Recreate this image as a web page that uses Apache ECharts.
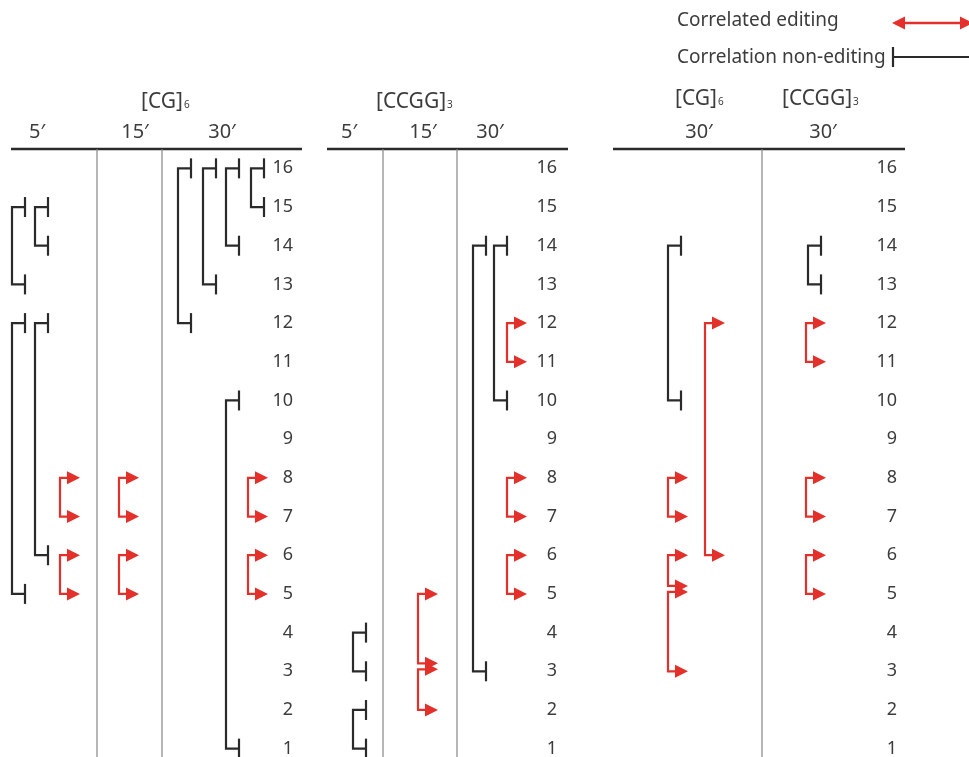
<!DOCTYPE html>
<html><head><meta charset="utf-8">
<script src="https://cdn.jsdelivr.net/npm/echarts@6/dist/echarts.min.js"></script>
<style>html,body{margin:0;padding:0;background:#fff}#c{width:969px;height:757px}</style>
</head><body><div id="c"></div>
<script>
// ================= DATA =================
const rowLabels = ['1','2','3','4','5','6','7','8','9','10','11','12','13','14','15','16'];
const panelTitles = ['[CG]6', '[CCGG]3'];
const timeLabels = ['5′', '15′', '30′'];
const legendLabels = ['Correlated editing', 'Correlation non-editing'];

// Correlation non-editing brackets: [upper position, lower position, nesting level]
const cg6_5min_nonEditing   = [[15,13,0],[15,14,1],[12,5,0],[12,6,1]];
const cg6_15min_nonEditing  = [];
const cg6_30min_nonEditing  = [[16,12,0],[16,13,1],[16,14,2],[16,15,3],[10,1,2]];
const ccgg3_5min_nonEditing = [[4,3,0],[2,1,0]];
const ccgg3_15min_nonEditing = [];
const ccgg3_30min_nonEditing = [[14,3,0],[14,10,1]];
const cmpCg6_30min_nonEditing   = [[14,10,0]];
const cmpCcgg3_30min_nonEditing = [[14,13,0]];

// Correlated editing brackets: [upper position, lower position, nesting level]
const cg6_5min_editing   = [[8,7,0],[6,5,0]];
const cg6_15min_editing  = [[8,7,0],[6,5,0]];
const cg6_30min_editing  = [[8,7,0],[6,5,0]];
const ccgg3_5min_editing = [];
const ccgg3_15min_editing = [[5,3,0],[3,2,0]];
const ccgg3_30min_editing = [[12,11,0],[8,7,0],[6,5,0]];
const cmpCg6_30min_editing   = [[12,6,1],[8,7,0],[6,5,0],[5,3,0]];
const cmpCcgg3_30min_editing = [[12,11,0],[8,7,0],[6,5,0]];

// ================= LAYOUT =================
const FONT = "'Noto Sans', 'DejaVu Sans', sans-serif";
const TXT = '#3c3c3c';
const BLACK = '#2a2a2a';
const RED = '#e3302a';
const SEP = '#858585';
const columns = [
  {ne: cg6_5min_nonEditing,    ed: cg6_5min_editing,    neX: [12, 35],            edX: [60]},
  {ne: cg6_15min_nonEditing,   ed: cg6_15min_editing,   neX: [],                  edX: [119]},
  {ne: cg6_30min_nonEditing,   ed: cg6_30min_editing,   neX: [178, 203, 226, 251], edX: [248]},
  {ne: ccgg3_5min_nonEditing,  ed: ccgg3_5min_editing,  neX: [353],               edX: []},
  {ne: ccgg3_15min_nonEditing, ed: ccgg3_15min_editing, neX: [],                  edX: [418]},
  {ne: ccgg3_30min_nonEditing, ed: ccgg3_30min_editing, neX: [473, 494],          edX: [507]},
  {ne: cmpCg6_30min_nonEditing,   ed: cmpCg6_30min_editing,   neX: [668], edX: [668, 705]},
  {ne: cmpCcgg3_30min_nonEditing, ed: cmpCcgg3_30min_editing, neX: [808], edX: [806]}
];

const neData = [], edData = [];
columns.forEach(c => {
  c.ne.forEach(b => neData.push([c.neX[b[2]], b[0], b[1]]));
  c.ed.forEach(b => {
    // when two editing brackets share an end in the same lane, separate the arrow heads slightly
    let topShift = 0, botShift = 0;
    c.ed.forEach(o => {
      if (o === b || o[2] !== b[2]) return;
      if (o[0] === b[1]) botShift = -8;
      if (o[1] === b[0]) topShift = -2;
    });
    edData.push([c.edX[b[2]], b[0], b[1], topShift, botShift]);
  });
});

function renderNonEditing(params, api) {
  const p1 = api.coord([api.value(0), api.value(1)]);
  const p2 = api.coord([api.value(0), api.value(2)]);
  const t = 13, h = 10;
  const st = {stroke: BLACK, lineWidth: 2.2, fill: null};
  return {type: 'group', children: [
    {type: 'polyline', shape: {points: [[p1[0]+t, p1[1]], [p1[0], p1[1]], [p2[0], p2[1]], [p2[0]+t, p2[1]]]}, style: st},
    {type: 'line', shape: {x1: p1[0]+t, y1: p1[1]-h, x2: p1[0]+t, y2: p1[1]+h}, style: st},
    {type: 'line', shape: {x1: p2[0]+t, y1: p2[1]-h, x2: p2[0]+t, y2: p2[1]+h}, style: st}
  ]};
}
function renderEditing(params, api) {
  const p1 = api.coord([api.value(0), api.value(1)]);
  const p2 = api.coord([api.value(0), api.value(2)]);
  const x = p1[0], y1 = p1[1] + api.value(3), y2 = p2[1] + api.value(4);
  const st = {stroke: RED, lineWidth: 2.2, fill: null};
  const head = (y) => ({type: 'polygon', shape: {points: [[x+7, y-6.5], [x+20, y], [x+7, y+6.5]]}, style: {fill: RED}});
  return {type: 'group', children: [
    {type: 'polyline', shape: {points: [[x+8, y1], [x, y1], [x, y2], [x+8, y2]]}, style: st},
    head(y1), head(y2)
  ]};
}

function rowAxis(right) {
  return {type: 'category', data: rowLabels, position: 'left', offset: -right,
    axisLine: {show: false}, axisTick: {show: false}, splitLine: {show: false},
    axisLabel: {margin: 0, interval: 0, fontSize: 18, color: TXT, fontFamily: FONT, padding: [4, 0, 0, 0]}};
}

function title(label, x, y) {
  const m = label.match(/^(.*\])(\d)$/);
  return {type: 'text', x: x, y: y, silent: true, style: {
    text: '{m|' + m[1] + '}{s|' + m[2] + '}', textVerticalAlign: 'middle', fill: TXT,
    rich: {m: {fontSize: 21, fontFamily: FONT, fill: TXT}, s: {fontSize: 10, fontFamily: FONT, fill: TXT, verticalAlign: 'bottom', padding: [0, 0, 2, 1]}}
  }};
}
function txt(t, x, y, size, align) {
  return {type: 'text', x: x, y: y, silent: true, style: {text: t, fontSize: size, fontFamily: FONT, fill: TXT, textAlign: align || 'center', textVerticalAlign: 'middle'}};
}
function hline(x1, x2, y, w, c) { return {type: 'line', silent: true, shape: {x1, y1: y, x2, y2: y}, style: {stroke: c, lineWidth: w}}; }
function vline(x, y1, y2, w, c) { return {type: 'line', silent: true, shape: {x1: x, y1, x2: x, y2}, style: {stroke: c, lineWidth: w}}; }

const graphics = [
  // header rules
  hline(11, 302, 149, 2.6, BLACK), hline(327, 568, 149, 2.6, BLACK), hline(613, 905, 149, 2.6, BLACK),
  // column separators
  vline(97, 149, 757, 1.2, SEP), vline(162, 149, 757, 1.2, SEP),
  vline(383, 149, 757, 1.2, SEP), vline(457, 149, 757, 1.2, SEP),
  vline(762, 149, 757, 1.2, SEP),
  // titles
  title(panelTitles[0], 141, 102), title(panelTitles[1], 376, 102),
  title(panelTitles[0], 675, 99), title(panelTitles[1], 782, 99),
  txt(timeLabels[0], 37, 132, 20), txt(timeLabels[1], 135, 132, 20), txt(timeLabels[2], 222, 132, 20),
  txt(timeLabels[0], 349, 132, 20), txt(timeLabels[1], 423, 132, 20), txt(timeLabels[2], 490, 132, 20),
  txt(timeLabels[2], 699, 132, 20), txt(timeLabels[2], 823, 132, 20),
  // legend
  txt(legendLabels[0], 677, 21, 19, 'left'),
  txt(legendLabels[1], 677, 58, 19, 'left'),
  hline(900, 965, 23, 2.5, RED),
  {type: 'polygon', silent: true, shape: {points: [[892, 23], [905, 16.5], [905, 29.5]]}, style: {fill: RED}},
  {type: 'polygon', silent: true, shape: {points: [[973, 23], [960, 16.5], [960, 29.5]]}, style: {fill: RED}},
  vline(893, 47, 67, 2.2, BLACK), hline(893, 969, 57, 2, BLACK)
];

const chart = echarts.init(document.getElementById('c'), null, {renderer: 'canvas'});
chart.setOption({
  backgroundColor: '#ffffff',
  animation: false,
  grid: {left: 0, top: 149, width: 969, height: 619, containLabel: false, outerBoundsMode: 'none'},
  xAxis: {type: 'value', min: 0, max: 969, show: false},
  yAxis: [
    {type: 'value', min: 0.5, max: 16.5, show: false},
    rowAxis(293), rowAxis(557), rowAxis(897)
  ],
  series: [
    {type: 'custom', name: legendLabels[1], xAxisIndex: 0, yAxisIndex: 0, renderItem: renderNonEditing, data: neData, clip: false, silent: true},
    {type: 'custom', name: legendLabels[0], xAxisIndex: 0, yAxisIndex: 0, renderItem: renderEditing, data: edData, clip: false, silent: true}
  ],
  graphic: graphics
});
</script></body></html>
